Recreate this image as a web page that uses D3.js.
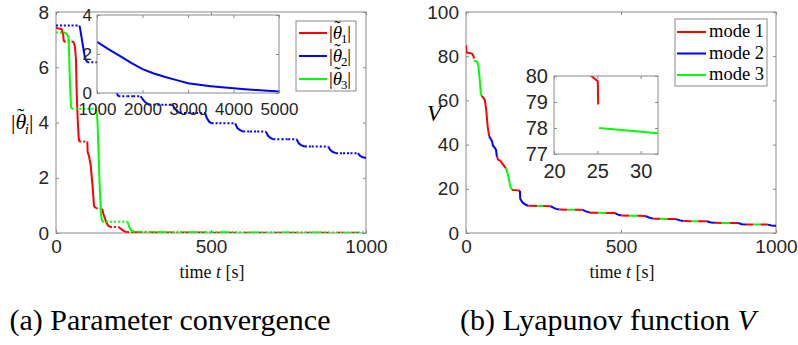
<!DOCTYPE html>
<html>
<head>
<meta charset="utf-8">
<script src="https://cdn.jsdelivr.net/npm/d3@7"></script>
<style>
  body { margin: 0; background: #fff; }
  svg { display: block; }
</style>
</head>
<body>
<div id="chart"></div>
<script>
// ---- data ----
// switching schedule: start time of each active mode
const switchTimes = [0, 25.15, 50, 75, 101, 128, 149, 174, 201, 230, 249, 273, 301, 327, 351, 376,
  400, 427, 452, 481, 502, 527, 553, 578, 604, 626, 649, 677, 701, 728, 749, 776,
  803, 825, 851, 878, 903, 926, 950, 974];
const switchModes = [1, 3, 1, 2, 1, 3, 1, 2, 1, 3, 1, 2, 1, 3, 1, 2,
  1, 3, 1, 2, 1, 3, 1, 2, 1, 3, 1, 2, 1, 3, 1, 2,
  1, 3, 1, 2, 1, 3, 1, 2];
const tEnd = 1000;

// |theta_i| estimation error, [t, value]
const theta1 = [[0, 7.42], [18, 7.38], [23, 7.2], [25.15, 6.93], [50, 6.93], [56, 6.92], [61, 6.76],
  [64.5, 6.28], [66.7, 5.1], [70, 4.1], [73, 3.5], [75, 3.31], [101, 3.31], [102, 2.95], [107, 2.75],
  [112, 2.45], [118, 1.7], [122.6, 0.98], [128, 0.9], [149, 0.88], [153, 0.68], [158, 0.53],
  [163, 0.37], [168, 0.27], [174, 0.22], [201, 0.22], [206, 0.18], [212, 0.13], [218, 0.08],
  [224, 0.05], [230, 0.03], [400, 0.015], [1000, 0.005]];
const theta2 = [[0, 7.51], [75, 7.51], [77, 7.45], [82.6, 7.07], [88, 6.7], [93.5, 6.34], [101, 6.18],
  [174, 6.18], [180, 5.8], [186, 5.45], [192, 5.2], [197, 5.05], [201, 4.95], [273, 4.95], [280, 4.84],
  [288, 4.73], [301, 4.64], [376, 4.64], [383, 4.5], [391, 4.4], [400, 4.34], [481, 4.34], [487, 4.15],
  [494, 4.03], [502, 3.97], [578, 3.97], [585, 3.8], [594, 3.72], [604, 3.67], [677, 3.67], [684, 3.52],
  [692, 3.44], [701, 3.39], [776, 3.39], [783, 3.25], [792, 3.17], [803, 3.13], [878, 3.13], [885, 3.0],
  [893, 2.93], [903, 2.89], [974, 2.89], [981, 2.79], [990, 2.74], [1000, 2.71]];
const theta3 = [[0, 7.26], [25.15, 7.26], [33, 7.22], [40, 7.1], [42, 6.6], [44, 5.8], [46.5, 5.0],
  [48.5, 4.6], [50, 4.5], [128, 4.5], [131, 4.4], [134, 4.0], [137, 3.0], [140, 2.0], [143, 1.2],
  [146, 0.6], [149, 0.41], [230, 0.41], [234, 0.3], [238, 0.18], [242, 0.1], [249, 0.05],
  [351, 0.03], [1000, 0.01]];

// long-run |theta_2| shown in the inset
const insetTimes = [1000, 1250, 1500, 1750, 2000, 2250, 2500, 2750, 3000, 3250, 3500, 3750, 4000,
  4250, 4500, 4750, 5000];
const insetTheta2 = [2.63, 2.25, 1.9, 1.55, 1.22, 1.0, 0.82, 0.66, 0.5, 0.42, 0.35, 0.29, 0.24,
  0.19, 0.15, 0.11, 0.08];

// Lyapunov function V, [t, value] (null = jump)
const lyapV = [[0, 85], [1, 81.7], [15, 81.4], [20, 81], [24.3, 80], [25.05, 79.8], [25.1, 78.9],
  [25.15, null], [25.2, 78], [32, 77.8], [37, 77.2], [40, 75.5], [44, 70], [48, 63], [50, 62],
  [55, 61.5], [61, 60], [65, 56], [70, 48], [75, 43.6], [80, 42.5], [84, 41.5], [87, 39.5],
  [93, 38.5], [97, 37.5], [99, 35], [101, 34.5], [103, 33.2], [110, 32.8], [118, 31.3], [125, 30],
  [128, 29.3], [132, 28], [136, 26], [140, 23], [144, 20.5], [149, 19.5], [160, 19.4], [174, 19.1],
  [175, 15.5], [180, 14.3], [185, 13.5], [190, 13], [201, 12.3], [230, 12.25], [249, 12.2],
  [273, 12.1], [280, 11.6], [290, 10.9], [301, 10.6], [376, 10.5], [385, 9.9], [400, 9.2],
  [481, 9.0], [490, 8.3], [502, 7.9], [578, 7.7], [590, 7.0], [604, 6.5], [677, 6.3], [690, 5.7],
  [701, 5.4], [776, 5.3], [790, 4.8], [803, 4.6], [878, 4.5], [890, 4.0], [903, 3.9], [974, 3.8],
  [985, 3.4], [1000, 3.3]];

const modeNames = ['mode 1', 'mode 2', 'mode 3'];
const colors = ['#ff0000', '#0000ff', '#00ff00'];

const xTicks = [0, 500, 1000];
const yTicksA = [0, 2, 4, 6, 8];
const yTicksB = [0, 20, 40, 60, 80, 100];
const insetXTicksA = [1000, 2000, 3000, 4000, 5000];
const insetYTicksA = [0, 2, 4];
const insetXTicksB = [20, 25, 30];
const insetYTicksB = [77, 78, 79, 80];

// ---- helpers ----
const W = 798, H = 345;
const axisGray = '#8a8a8a';
const textCol = '#262626';
const sans = '"Liberation Sans", Arial, sans-serif';
const serif = '"Liberation Serif", "DejaVu Serif", serif';
const fmt = d3.format('d');

const intervals = switchTimes.map((t, i) => ({
  a: t, b: i < switchTimes.length - 1 ? switchTimes[i + 1] : tEnd, mode: switchModes[i]
}));

function valueAt(pts, t) {
  for (let i = 0; i < pts.length - 1; i++) {
    const [t0, v0] = pts[i], [t1, v1] = pts[i + 1];
    if (t0 <= t && t <= t1) {
      if (v0 == null || v1 == null) return null;
      return t1 === t0 ? v0 : v0 + (v1 - v0) * (t - t0) / (t1 - t0);
    }
  }
  return null;
}

function slice(pts, a, b) {
  const out = pts.filter(p => p[0] >= a && p[0] <= b);
  if (!out.length || out[0][0] > a) {
    const v = valueAt(pts, a);
    if (v != null) out.unshift([a, v]);
  }
  if (out[out.length - 1][0] < b) {
    const v = valueAt(pts, b);
    if (v != null) out.push([b, v]);
  }
  return out;
}

function frame(g, x, y, xt, yt, fontSize, padX, padY) {
  const [x0, x1] = x.range(), [y0, y1] = y.range();
  const bottom = g.append('g').attr('transform', `translate(0,${y0})`)
    .call(d3.axisBottom(x).tickValues(xt).tickFormat(fmt).tickSizeInner(-3).tickSizeOuter(0).tickPadding(padX));
  const top = g.append('g').attr('transform', `translate(0,${y1})`)
    .call(d3.axisTop(x).tickValues(xt).tickSizeInner(-3).tickSizeOuter(0).tickFormat(''));
  const left = g.append('g').attr('transform', `translate(${x0},0)`)
    .call(d3.axisLeft(y).tickValues(yt).tickFormat(fmt).tickSizeInner(-3).tickSizeOuter(0).tickPadding(padY));
  const right = g.append('g').attr('transform', `translate(${x1},0)`)
    .call(d3.axisRight(y).tickValues(yt).tickSizeInner(-3).tickSizeOuter(0).tickFormat(''));
  [bottom, top, left, right].forEach(a => {
    a.select('.domain').remove();
    a.selectAll('line').attr('stroke', axisGray);
    a.selectAll('text').attr('fill', textCol).style('font-family', sans).style('font-size', fontSize + 'px');
  });
  g.append('rect')
    .attr('x', x0).attr('y', y1).attr('width', x1 - x0).attr('height', y0 - y1)
    .attr('fill', 'none').attr('stroke', axisGray).attr('stroke-width', 1);
}

// |theta~ sub|  written with a raised small tilde
function thetaLabel(t, sub, size, subItalic) {
  t.style('font-family', serif).style('font-size', size + 'px').attr('fill', '#000');
  t.append('tspan').text('|');
  t.append('tspan').style('font-style', 'italic').text('θ');
  t.append('tspan').attr('dx', -0.42 * size).attr('dy', -0.28 * size).text('˜');
  t.append('tspan').attr('dx', 0.02 * size).attr('dy', 0.28 * size + 0.22 * size)
    .style('font-size', (size * 0.68) + 'px').style('font-style', subItalic ? 'italic' : 'normal').text(sub);
  t.append('tspan').attr('dy', -0.22 * size).text('|');
}

const svg = d3.select('#chart').append('svg')
  .attr('width', W).attr('height', H).attr('viewBox', [0, 0, W, H]);

const defs = svg.append('defs');
function clip(id, x, y) {
  const [x0, x1] = x.range(), [y0, y1] = y.range();
  defs.append('clipPath').attr('id', id).append('rect')
    .attr('x', x0).attr('y', y1).attr('width', x1 - x0).attr('height', y0 - y1);
  return `url(#${id})`;
}

// ===== (a) parameter convergence =====
const xA = d3.scaleLinear().domain([0, 1000]).range([56, 366]);
const yA = d3.scaleLinear().domain([0, 8]).range([233, 12]);
const lineA = d3.line().x(d => xA(d[0])).y(d => yA(d[1]));
const gA = svg.append('g');
frame(gA, xA, yA, xTicks, yTicksA, 19, 7, 7);

const plotA = gA.append('g').attr('clip-path', clip('clipA', xA, yA));
[theta1, theta2, theta3].forEach((pts, i) => {
  intervals.forEach(iv => {
    const seg = slice(pts, iv.a, iv.b);
    if (seg.length < 2) return;
    plotA.append('path')
      .attr('d', lineA(seg))
      .attr('fill', 'none')
      .attr('stroke', colors[i])
      .attr('stroke-width', 2)
      .attr('stroke-dasharray', iv.mode === i + 1 ? null : '2,2');
  });
});

// inset (a)
const xIA = d3.scaleLinear().domain([1000, 5000]).range([97, 279]);
const yIA = d3.scaleLinear().domain([0, 4]).range([93, 15]);
const gIA = svg.append('g');
gIA.append('rect').attr('x', 97).attr('y', 15).attr('width', 182).attr('height', 78).attr('fill', '#fff');
gIA.append('path')
  .attr('d', d3.line().x(d => xIA(d[0])).y(d => yIA(d[1]))(insetTimes.map((t, i) => [t, insetTheta2[i]])))
  .attr('fill', 'none').attr('stroke', colors[1]).attr('stroke-width', 2)
  .attr('clip-path', clip('clipIA', xIA, yIA));
frame(gIA, xIA, yIA, insetXTicksA, insetYTicksA, 17, 10, 5);

// legend (a)
const legA = svg.append('g');
legA.append('rect').attr('x', 296).attr('y', 21).attr('width', 60).attr('height', 70)
  .attr('fill', '#fff').attr('stroke', axisGray);
[0, 1, 2].forEach(i => {
  const yy = 33 + i * 23;
  legA.append('line').attr('x1', 299).attr('x2', 327).attr('y1', yy).attr('y2', yy)
    .attr('stroke', colors[i]).attr('stroke-width', 2);
  thetaLabel(legA.append('text').attr('x', 329).attr('y', yy + 6), i + 1, 19, false);
});

// labels (a)
thetaLabel(svg.append('text').attr('x', 11).attr('y', 129), 'i', 22, true);

function timeLabel(cx) {
  const t = svg.append('text').attr('x', cx).attr('y', 278).attr('text-anchor', 'middle')
    .style('font-family', serif).style('font-size', '18px').attr('fill', '#111');
  t.append('tspan').text('time ');
  t.append('tspan').style('font-style', 'italic').text('t');
  t.append('tspan').text(' [s]');
}
timeLabel(212);

// ===== (b) Lyapunov function =====
const xB = d3.scaleLinear().domain([0, 1000]).range([466, 776]);
const yB = d3.scaleLinear().domain([0, 100]).range([233, 12]);
const gB = svg.append('g');
frame(gB, xB, yB, xTicks, yTicksB, 19, 7, 7);

function drawV(g, x, y, clipId) {
  const line = d3.line().defined(d => d[1] != null).x(d => x(d[0])).y(d => y(d[1]));
  const p = g.append('g').attr('clip-path', clip(clipId, x, y));
  intervals.forEach(iv => {
    const seg = slice(lyapV, iv.a, iv.b);
    if (seg.length < 2) return;
    p.append('path').attr('d', line(seg))
      .attr('fill', 'none').attr('stroke', colors[iv.mode - 1]).attr('stroke-width', 2);
  });
}
drawV(gB, xB, yB, 'clipB');

// inset (b)
const xIB = d3.scaleLinear().domain([20, 32]).range([554, 658]);
const yIB = d3.scaleLinear().domain([77, 80]).range([154, 76]);
const gIB = svg.append('g');
gIB.append('rect').attr('x', 554).attr('y', 76).attr('width', 104).attr('height', 78).attr('fill', '#fff');
drawV(gIB, xIB, yIB, 'clipIB');
frame(gIB, xIB, yIB, insetXTicksB, insetYTicksB, 20, 10, 6);

// legend (b)
const legB = svg.append('g');
legB.append('rect').attr('x', 675).attr('y', 19).attr('width', 92).attr('height', 67)
  .attr('fill', '#fff').attr('stroke', axisGray);
modeNames.forEach((name, i) => {
  const yy = 32 + i * 21.5;
  legB.append('line').attr('x1', 677).attr('x2', 706).attr('y1', yy).attr('y2', yy)
    .attr('stroke', colors[i]).attr('stroke-width', 2);
  legB.append('text').attr('x', 709).attr('y', yy + 5)
    .style('font-family', serif).style('font-size', '18px').attr('fill', '#000')
    .attr('textLength', 55).attr('lengthAdjust', 'spacingAndGlyphs').text(name);
});

svg.append('text').attr('x', 434).attr('y', 121).attr('text-anchor', 'middle')
  .style('font-family', serif).style('font-size', '23px').style('font-style', 'italic')
  .attr('fill', '#000').text('V');
timeLabel(622);

// captions
svg.append('text').attr('x', 170).attr('y', 330).attr('text-anchor', 'middle')
  .style('font-family', serif).style('font-size', '30px').attr('fill', '#000')
  .text('(a) Parameter convergence');
const capB = svg.append('text').attr('x', 608).attr('y', 330).attr('text-anchor', 'middle')
  .style('font-family', serif).style('font-size', '30px').attr('fill', '#000');
capB.append('tspan').text('(b) Lyapunov function ');
capB.append('tspan').style('font-style', 'italic').text('V');
</script>
</body>
</html>
